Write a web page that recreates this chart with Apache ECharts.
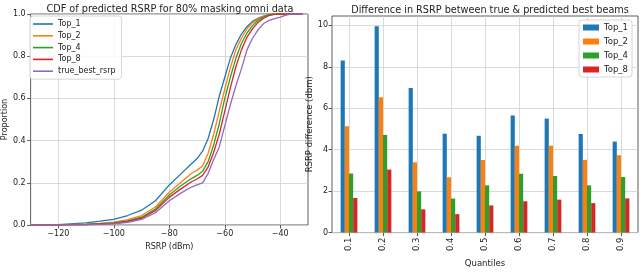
<!DOCTYPE html>
<html><head><meta charset="utf-8">
<script src="https://cdn.jsdelivr.net/npm/echarts@6/dist/echarts.min.js"></script>
<style>html,body{margin:0;padding:0;background:#fff}#c{width:640px;height:273px}</style>
</head><body><div id="c"></div>
<script>
// ---- Left chart: CDF data ----
const rsrpX = [-130,-120,-110,-105,-100,-95,-90,-85,-80,-76,-72,-70,-68,-66,-64,-62,-60,-58,-56,-54,-52,-50,-48,-46,-44,-42,-40,-38,-36,-32];
const cdfTop1 = [0,0.002,0.01,0.018,0.027,0.045,0.07,0.115,0.19,0.24,0.29,0.315,0.35,0.41,0.50,0.61,0.70,0.79,0.855,0.905,0.94,0.965,0.98,0.99,0.998,1,1,1,1,1];
const cdfTop2 = [0,0.001,0.004,0.008,0.013,0.025,0.045,0.085,0.155,0.2,0.245,0.26,0.28,0.34,0.43,0.54,0.645,0.745,0.83,0.885,0.93,0.958,0.977,0.989,0.996,1,1,1,1,1];
const cdfTop4 = [0,0.001,0.003,0.006,0.01,0.02,0.037,0.075,0.142,0.185,0.22,0.235,0.255,0.30,0.38,0.48,0.60,0.70,0.79,0.86,0.91,0.945,0.97,0.985,0.995,0.999,1,1,1,1];
const cdfTop8 = [0,0.001,0.002,0.005,0.008,0.017,0.032,0.068,0.131,0.17,0.205,0.218,0.235,0.275,0.345,0.43,0.54,0.65,0.75,0.83,0.89,0.93,0.96,0.98,0.993,0.998,1,1,1,1];
const cdfTrueBest = [0,0,0.001,0.003,0.006,0.013,0.027,0.058,0.115,0.15,0.18,0.19,0.2,0.245,0.31,0.37,0.47,0.57,0.66,0.74,0.83,0.885,0.925,0.955,0.97,0.978,0.985,0.995,1,1];
const cdfNames = ['Top_1','Top_2','Top_4','Top_8','true_best_rsrp'];
const leftXTicks = [-120,-100,-80,-60,-40];
const leftXSteps = [-130,-120,-110,-100,-90,-80,-70,-60,-50,-40,-30];

// ---- Right chart: bar data ----
const quantiles = ['0.1','0.2','0.3','0.4','0.5','0.6','0.7','0.8','0.9'];
const diffTop1 = [8.3,9.95,6.98,4.77,4.67,5.65,5.5,4.76,4.39];
const diffTop2 = [5.13,6.53,3.39,2.67,3.5,4.19,4.19,3.51,3.73];
const diffTop4 = [2.85,4.71,1.99,1.64,2.28,2.84,2.73,2.28,2.68];
const diffTop8 = [1.67,3.04,1.12,0.89,1.31,1.51,1.59,1.42,1.65];
const barNames = ['Top_1','Top_2','Top_4','Top_8'];
const rightYTicks = [0,2,4,6,8,10];

const colors = ['#1f77b4','#ff7f0e','#2ca02c','#d62728','#9467bd'];
const FONT = 'DejaVu Sans';
const minus = v => String(v).replace('-', '\u2212');

const cdfSeriesData = [cdfTop1, cdfTop2, cdfTop4, cdfTop8, cdfTrueBest];
const barSeriesData = [diffTop1, diffTop2, diffTop4, diffTop8];

const GRIDC = '#d0d0d0';
const gridLine = {show:true, lineStyle:{color:GRIDC, width:0.8}};
const tickStyle = {show:true, inside:false, length:3.5, lineStyle:{color:'#333', width:0.8}};
const labelStyle = {fontFamily:FONT, fontSize:8, color:'#222'};
const gridMarkLine = (vals) => ({silent:true, symbol:['none','none'], z:1, label:{show:false}, animation:false,
  lineStyle:{color:GRIDC, width:0.8, type:'solid'}, data: vals.map(v => ({xAxis:v}))});

const series = [];
// helper series on the helper category axis: vertical grid lines of the left chart
series.push({
  name:'_gridL', type:'line', xAxisIndex:2, yAxisIndex:0, data: leftXSteps.map(() => null),
  showSymbol:false, symbol:'none', silent:true, animation:false, z:1,
  markLine: gridMarkLine(leftXTicks.map(String))
});
cdfSeriesData.forEach((arr, i) => {
  series.push({
    name: cdfNames[i], type:'line', xAxisIndex:0, yAxisIndex:0,
    data: rsrpX.map((x, k) => [x, arr[k]]),
    showSymbol:false, symbol:'none', animation:false,
    lineStyle:{color:colors[i], width:1.3}, itemStyle:{color:colors[i]}, z:3
  });
});
// grid lines at category centres (right chart)
series.push({
  name:'_gridR', type:'line', xAxisIndex:1, yAxisIndex:1, data: quantiles.map(() => null),
  showSymbol:false, symbol:'none', silent:true, animation:false, z:1,
  markLine: gridMarkLine(quantiles)
});
barSeriesData.forEach((arr, i) => {
  series.push({
    name: barNames[i], type:'bar', xAxisIndex:1, yAxisIndex:1, data: arr,
    barWidth:'12.3%', barGap:'0%', animation:false, z:3,
    itemStyle:{color:colors[i]}
  });
});

const option = {
  backgroundColor:'#fff',
  animation:false,
  title:[
    {text:'CDF of predicted RSRP for 80% masking omni data', left:165, top:-1, textAlign:'center',
     textStyle:{fontFamily:FONT, fontSize:9.7, fontWeight:'normal', color:'#222'}},
    {text:'Difference in RSRP between true & predicted best beams', left:485, top:0, textAlign:'center',
     textStyle:{fontFamily:FONT, fontSize:9.7, fontWeight:'normal', color:'#222'}}
  ],
  legend:[
    {data:cdfNames, orient:'vertical', left:30, top:16, icon:'rect', itemWidth:20, itemHeight:1.6, itemGap:1.8,
     padding:[3,6,3,3], backgroundColor:'rgba(255,255,255,0.85)', borderColor:'#cccccc', borderWidth:0.8, borderRadius:3,
     textStyle:{fontFamily:FONT, fontSize:8, color:'#222', lineHeight:10}},
    {data:barNames, orient:'vertical', left:579, top:20, itemWidth:16, itemHeight:6, itemGap:5,
     padding:[3,4,3,4], backgroundColor:'rgba(255,255,255,0.85)', borderColor:'#cccccc', borderWidth:0.8, borderRadius:3,
     icon:'rect', textStyle:{fontFamily:FONT, fontSize:8.5, color:'#222'}}
  ],
  grid:[
    {left:26, top:14, width:282, height:211, show:true, borderColor:'#333', borderWidth:0.8, backgroundColor:'transparent'},
    {left:332, top:16, width:306, height:227.5, show:true, borderColor:'#333', borderWidth:0.8, backgroundColor:'transparent'}
  ],
  xAxis:[
    {type:'value', gridIndex:0, min:-130, max:-30, interval:10,
     axisLine:{show:false}, axisTick:Object.assign({}, tickStyle, {customValues:leftXTicks}),
     splitLine:{show:false},
     axisLabel:Object.assign({}, labelStyle, {customValues:leftXTicks, margin:5, formatter:minus}),
     name:'RSRP (dBm)', nameLocation:'middle', nameGap:17, nameTextStyle:{fontFamily:FONT, fontSize:8, color:'#222'}},
    {type:'category', gridIndex:1, data:quantiles, boundaryGap:true,
     axisLine:{show:false}, axisTick:Object.assign({}, tickStyle, {alignWithLabel:true}),
     splitLine:{show:false},
     axisLabel:Object.assign({}, labelStyle, {rotate:90, margin:5, fontSize:8.5}),
     name:'Quantiles', nameLocation:'middle', nameGap:20, nameTextStyle:{fontFamily:FONT, fontSize:8.5, color:'#222'}},
    // helper category axis (hidden) spanning the same -130..-30 range, used only for grid lines
    {type:'category', gridIndex:0, position:'top', data:leftXSteps.map(String), boundaryGap:false,
     axisLine:{show:false}, axisTick:{show:false}, axisLabel:{show:false},
     splitLine:{show:false}}
  ],
  yAxis:[
    {type:'value', gridIndex:0, min:0, max:1, interval:0.2,
     axisLine:{show:false}, axisTick:tickStyle, splitLine:gridLine,
     axisLabel:Object.assign({}, labelStyle, {margin:5, formatter:v => v.toFixed(1)}),
     name:'Proportion', nameLocation:'middle', nameGap:17, nameRotate:90, nameTextStyle:{fontFamily:FONT, fontSize:8, color:'#222'}},
    {type:'value', gridIndex:1, min:0, max:10.45, interval:2,
     axisLine:{show:false}, axisTick:Object.assign({}, tickStyle, {customValues:rightYTicks}), splitLine:gridLine,
     axisLabel:Object.assign({}, labelStyle, {customValues:rightYTicks, margin:4}),
     name:'RSRP difference (dbm)', nameLocation:'middle', nameGap:15, nameRotate:90, nameTextStyle:{fontFamily:FONT, fontSize:8.5, color:'#222'}}
  ],
  series: series
};
const chart = echarts.init(document.getElementById('c'), null, {renderer:'canvas'});
chart.setOption(option);
</script></body></html>
